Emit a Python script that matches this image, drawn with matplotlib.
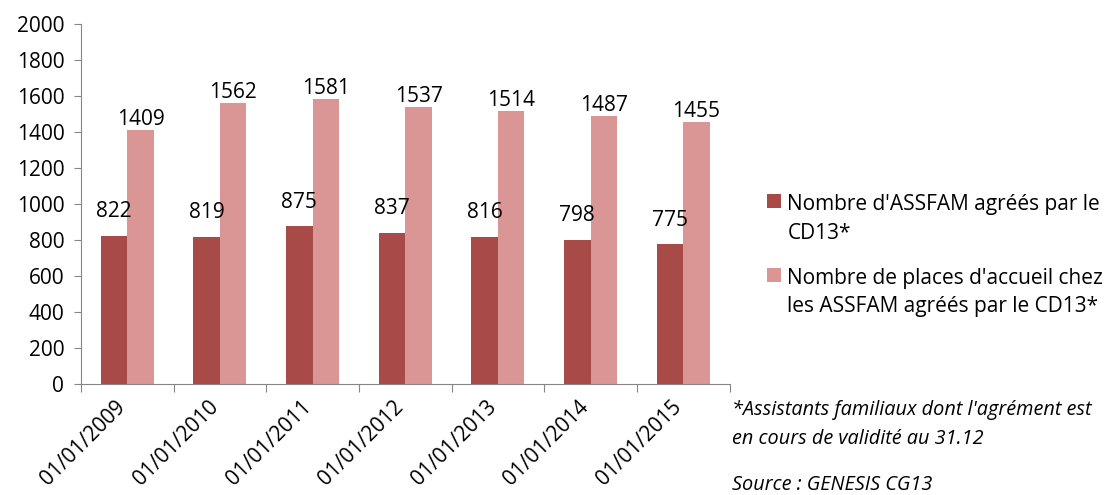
import numpy as np
import matplotlib
matplotlib.use("Agg")
from matplotlib import pyplot as plt

plt.rcParams['font.family'] = ['Open Sans', 'DejaVu Sans']

# Données
dates = ['01/01/2009', '01/01/2010', '01/01/2011', '01/01/2012',
         '01/01/2013', '01/01/2014', '01/01/2015']
assfam = [822, 819, 875, 837, 816, 798, 775]
places = [1409, 1562, 1581, 1537, 1514, 1487, 1455]
label_assfam = "Nombre d'ASSFAM agréés par le\nCD13*"
label_places = "Nombre de places d'accueil chez\nles ASSFAM agréés par le CD13*"

c_dark = '#A84A48'
c_light = '#DA9694'
fs = 15

fig = plt.figure(figsize=(11.07, 4.95), dpi=100)
ax = fig.add_axes([0.0732, 0.224, 0.5858, 0.728])

x = np.arange(len(dates))
w = 0.286
ax.bar(x - w / 2, assfam, w, color=c_dark, label=label_assfam)
ax.bar(x + w / 2, places, w, color=c_light, label=label_places)

for xi, v in zip(x, assfam):
    ax.annotate(str(v), (xi - w / 2, v), xytext=(0, 10), textcoords='offset points',
                ha='center', va='bottom', fontsize=fs)
for xi, v in zip(x, places):
    ax.annotate(str(v), (xi + w / 2, v), xytext=(0, 0), textcoords='offset points',
                ha='center', va='bottom', fontsize=fs)

ax.set_xlim(-0.5, len(dates) - 0.5)
ax.set_ylim(0, 2000)
ax.set_yticks(range(0, 2001, 200))
ax.tick_params(axis='y', labelsize=fs, color='#868686', length=5, pad=7)

# ticks entre les catégories
ax.set_xticks(np.arange(-0.5, len(dates), 1))
ax.set_xticklabels([])
ax.tick_params(axis='x', color='#868686', length=6)
ax.set_xticks(x + 0.03, minor=True)
ax.set_xticklabels(dates, minor=True, rotation=45, ha='right', fontsize=fs)
ax.tick_params(axis='x', which='minor', length=0, pad=9)

for s in ['top', 'right']:
    ax.spines[s].set_visible(False)
for s in ['left', 'bottom']:
    ax.spines[s].set_color('#868686')

leg = ax.legend(loc='upper left', bbox_to_anchor=(0.693, 0.608), bbox_transform=fig.transFigure,
                frameon=False, fontsize=fs, handlelength=0.67, handleheight=0.67,
                handletextpad=0.3, labelspacing=1.14, borderpad=0, borderaxespad=0)
for t in leg.get_texts():
    t.set_linespacing(1.49)
for col in leg._legend_handle_box.get_children():
    for row in col.get_children():
        row.align = 'top'

fig.text(0.661, 0.1424, "*Assistants familiaux dont l'agrément est\nen cours de validité au 31.12",
         fontsize=14.3, style='italic', va='center', linespacing=1.6)
fig.text(0.661, 0.0, "Source : GENESIS CG13", fontsize=14.3, style='italic', va='bottom')

fig.savefig('out.png', dpi=100)
